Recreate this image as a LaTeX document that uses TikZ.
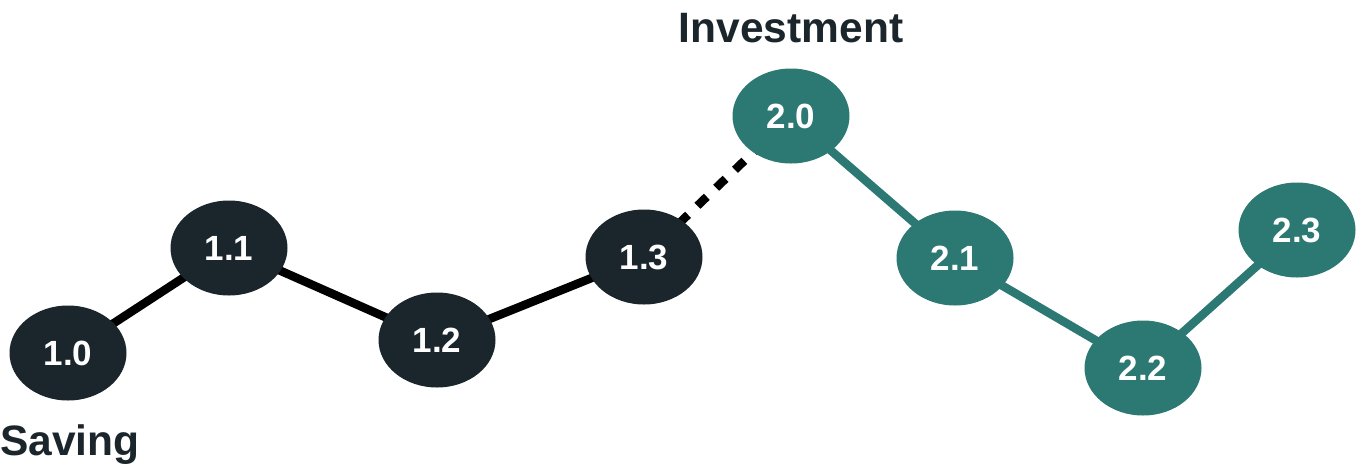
\documentclass[tikz,border=0pt]{standalone}
\usepackage{fontspec}
\setmainfont{Liberation Sans}
\usetikzlibrary{shapes.geometric,backgrounds}
\definecolor{darknode}{RGB}{27,38,44}
\definecolor{tealnode}{RGB}{44,120,115}
\begin{document}
\begin{tikzpicture}[x=1pt,y=-1pt,
  stage/.style={ellipse,minimum width=117pt,minimum height=95pt,inner sep=0pt,
    text=white,font=\bfseries\fontsize{35}{35}\selectfont},
  darkstage/.style={stage,fill=darknode},
  tealstage/.style={stage,fill=tealnode},
  darklink/.style={line width=8.5pt,black},
  teallink/.style={line width=8.5pt,tealnode},
  dashlink/.style={line width=8.5pt,black,dash pattern=on 13pt off 13pt,dash phase=4pt},
  title/.style={text=darknode,font=\bfseries\fontsize{42.5}{42.5}\selectfont,inner sep=0pt}]
\useasboundingbox (0,0) rectangle (1356,464);
\node[darkstage] (n10) at (68,353) {1.0};
\node[darkstage] (n11) at (229,248) {1.1};
\node[darkstage] (n12) at (437,340) {1.2};
\node[darkstage] (n13) at (644,257) {1.3};
\node[tealstage] (n20) at (791,116) {2.0};
\node[tealstage] (n21) at (955,258) {2.1};
\node[tealstage] (n22) at (1143,368) {2.2};
\node[tealstage] (n23) at (1297,230) {2.3};
\node[title,anchor=base west] (saving) at (0,455) {Saving};
\node[title,anchor=base] (invest) at (791,42) {Investment};
\begin{scope}[on background layer]
\draw[darklink] (n10.center) -- (n11.center) -- (n12.center) -- (n13.center);
\draw[dashlink] (n13.center) -- (n20.center);
\draw[teallink] (n20.center) -- (n21.center) -- (n22.center) -- (n23.center);
\end{scope}
\end{tikzpicture}
\end{document}
